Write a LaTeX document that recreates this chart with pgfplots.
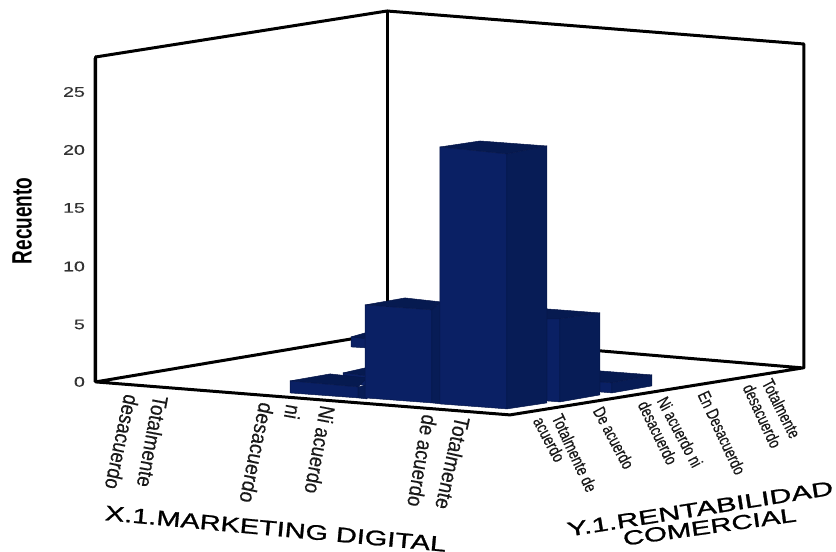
\documentclass[border=0pt]{standalone}
\usepackage{fontspec}
\setmainfont{Liberation Sans}
\newfontfamily\semibold[FakeBold=1.0]{Liberation Sans}
\newfontfamily\medium[FakeBold=0.35]{Liberation Sans}
\usepackage{graphicx}
\usepackage{pgfplots}
\pgfplotsset{compat=1.18}

\definecolor{barfront}{HTML}{0A2064}
\definecolor{barside}{HTML}{071C56}
\definecolor{bartop}{HTML}{061A50}
\definecolor{baredge}{HTML}{06174A}

% rotated label: {x}{y}{angle}{size}{along-text stretch}{across-text stretch}{text}
\newcommand\lab[7]{\node[rotate=#3,anchor=west,inner sep=0pt,text=black!90] at (axis cs:#1,#2)
  {\medium\fontsize{#4}{#4}\selectfont\scalebox{#5}[#6]{#7}};}
\newcommand\wide[1]{\medium\fontsize{14}{14}\selectfont\scalebox{1.4}[1]{#1}}

\pgfplotsset{
  face/.style={fill=#1,draw=baredge,line width=0.5pt,no markers,sharp plot,line join=round},
  frame/.style={black,line width=3pt,no markers,sharp plot,line join=round,line cap=round},
}

\begin{document}
\begin{tikzpicture}
\begin{axis}[
  scale only axis,width=836pt,height=552pt,
  xmin=0,xmax=836,ymin=0,ymax=552,y dir=reverse,
  clip=false,
  axis line style={draw=none},
  major tick length=0pt,
  xtick=\empty,
  ytick={382,324.5,266.5,208,150,92},
  yticklabels={\wide{0},\wide{5},\wide{10},\wide{15},\wide{20},\wide{25}},
  yticklabel style={anchor=east,xshift=85pt,inner sep=0pt,text=black!80},
]
% box walls and floor
\addplot[gray!70,line width=1pt,no markers] coordinates {(93.2,58) (93.2,382)};
\addplot[frame] coordinates {(95.5,57) (387,11) (804,44) (804,368)};
\addplot[frame] coordinates {(95.5,57) (95.5,382) (510,415) (803,368) (387,333) (95.5,382)};
\addplot[frame] coordinates {(387,11) (387,333)};

% low bar at the far left, near the back wall
\addplot[face=bartop]   coordinates {(351,337) (365,333) (367,339)} --cycle;
\addplot[face=barfront] coordinates {(351,337) (367,339) (367,348) (351,347)} --cycle;
% low bar behind the first row
\addplot[face=bartop]   coordinates {(343,373) (365,368) (367,376)} --cycle;
\addplot[face=barfront] coordinates {(343,373) (367,376) (367,386) (343,382)} --cycle;
% low bar, left front
\addplot[face=bartop]   coordinates {(290,381) (330,374) (367,378) (358,387)} --cycle;
\addplot[face=barfront] coordinates {(290,381) (358,387) (358,398) (290,393)} --cycle;
\addplot[face=barside]  coordinates {(358,387) (367,385) (367,399) (358,398)} --cycle;
% middle bar, Ni acuerdo ni desacuerdo
\addplot[face=bartop]   coordinates {(365,305) (405,298) (441,302) (432,310)} --cycle;
\addplot[face=barfront] coordinates {(365,305) (432,310) (432,403) (365,398)} --cycle;
\addplot[face=barside]  coordinates {(432,310) (441,302) (441,404) (432,403)} --cycle;
% low bar, right
\addplot[face=bartop]   coordinates {(600,371) (652,375) (612,383) (600,382)} --cycle;
\addplot[face=barfront] coordinates {(600,382) (612,383) (612,393) (600,392)} --cycle;
\addplot[face=barside]  coordinates {(612,383) (652,375) (652,386) (612,393)} --cycle;
% tall bar's neighbour on the right
\addplot[face=bartop]   coordinates {(547,309) (600,313) (560,319) (547,319)} --cycle;
\addplot[face=barfront] coordinates {(547,319) (560,319) (560,402) (547,401)} --cycle;
\addplot[face=barside]  coordinates {(560,319) (600,313) (600,395) (560,402)} --cycle;
% tallest bar, count 20
\addplot[face=bartop]   coordinates {(440,147) (480,141) (547,146) (507,154)} --cycle;
\addplot[face=barfront] coordinates {(440,147) (507,154) (507,409) (440,404)} --cycle;
\addplot[face=barside]  coordinates {(507,154) (547,146) (547,403) (507,409)} --cycle;

% axis title on the vertical axis
\node[rotate=90,inner sep=0pt] at (axis cs:22,221)
  {\fontsize{28}{28}\selectfont\scalebox{0.68}[1]{\bfseries Recuento}};

% categories along the left floor edge
\lab{161}{396}{-100.5}{18}{1.05}{1.2}{Totalmente}
\lab{132}{395}{-102}{18}{1.02}{1.2}{desacuerdo}
\lab{328}{406}{-100.5}{18}{1.02}{1.2}{Ni acuerdo}
\lab{294}{405}{-100}{18}{1}{1.2}{ni}
\lab{267}{403}{-101.5}{18}{1.08}{1.2}{desacuerdo}
\lab{463}{417}{-102.5}{18}{1.07}{1.2}{Totalmente}
\lab{430}{415}{-99.5}{18}{1.03}{1.2}{de acuerdo}

% categories along the right floor edge
\lab{557}{415}{-65}{14}{0.95}{1.25}{Totalmente de}
\lab{538}{418}{-62}{14}{0.95}{1.25}{acuerdo}
\lab{598}{408}{-62}{14}{0.93}{1.25}{De acuerdo}
\lab{662}{398}{-62}{14}{0.93}{1.25}{Ni acuerdo ni}
\lab{643}{402}{-64}{14}{0.93}{1.25}{desacuerdo}
\lab{703}{392}{-65}{14}{0.93}{1.25}{En Desacuerdo}
\lab{767}{380}{-63}{14}{0.93}{1.25}{Totalmente}
\lab{748}{385}{-65}{14}{0.93}{1.25}{desacuerdo}

% floor axis titles
\node[rotate=-5.3,anchor=west,inner sep=0pt] at (axis cs:105,513)
  {\semibold\fontsize{21}{21}\selectfont\scalebox{1.38}[1]{X.1.MARKETING DIGITAL}};
\node[rotate=9,anchor=west,inner sep=0pt] at (axis cs:567,530)
  {\semibold\fontsize{20}{20}\selectfont\scalebox{1.52}[1]{Y.1.RENTABILIDAD}};
\node[rotate=8,anchor=west,inner sep=0pt] at (axis cs:623,539)
  {\semibold\fontsize{20}{20}\selectfont\scalebox{1.47}[1]{COMERCIAL}};
\end{axis}
\end{tikzpicture}
\end{document}
